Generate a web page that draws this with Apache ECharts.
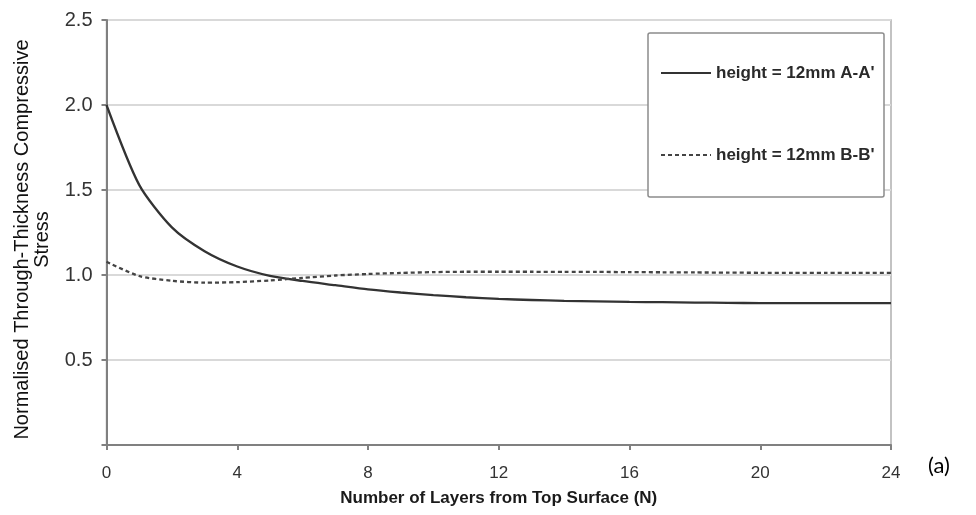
<!DOCTYPE html>
<html>
<head>
<meta charset="utf-8">
<script src="https://cdn.jsdelivr.net/npm/echarts@6/dist/echarts.min.js"></script>
<style>
html,body{margin:0;padding:0;background:#fff;}
#chart{width:976px;height:515px;}
</style>
</head>
<body>
<div id="chart"></div>
<script>
const layers = [0,1,2,3,4,5,6,7,8,9,10,11,12,13,14,15,16,17,18,19,20,21,22,23,24];
const stressAA = [2.00,1.53,1.28,1.14,1.05,0.995,0.965,0.94,0.915,0.897,0.882,0.869,0.859,0.853,0.848,0.845,0.842,0.840,0.838,0.836,0.835,0.835,0.835,0.835,0.835];
const stressBB = [1.078,0.994,0.966,0.955,0.958,0.968,0.983,0.997,1.006,1.012,1.017,1.019,1.019,1.019,1.018,1.018,1.017,1.016,1.015,1.014,1.013,1.013,1.012,1.012,1.012];
const seriesNames = ["height = 12mm A-A'", "height = 12mm B-B'"];
const xTitle = "Number of Layers from Top Surface (N)";
const yTitle = "Normalised Through-Thickness Compressive\nStress";

const FONT = "'Liberation Sans', Arial, sans-serif";
const chart = echarts.init(document.getElementById('chart'));
chart.setOption({
  animation: false,
  backgroundColor: '#ffffff',
  grid: { left: 106.5, right: 85, top: 20, bottom: 70, containLabel: false, outerBoundsMode: 'none',
          show: true, borderColor: '#b0b0b0', borderWidth: 1.5, backgroundColor: 'transparent' },
  xAxis: {
    type: 'value', min: 0, max: 24, interval: 4,
    name: xTitle, nameLocation: 'middle', nameGap: 45,
    nameTextStyle: { fontFamily: FONT, fontSize: 17, fontWeight: 'bold', color: '#1a1a1a' },
    axisLine: { show: true, onZero: false, lineStyle: { color: '#808080', width: 2 } },
    axisTick: { show: true, length: 5, lineStyle: { color: '#808080', width: 2 } },
    axisLabel: { fontFamily: FONT, fontSize: 17, color: '#333333', margin: 20 },
    splitLine: { show: false }
  },
  yAxis: {
    type: 'value', min: 0, max: 2.5, interval: 0.5,
    name: yTitle, nameLocation: 'middle', nameRotate: 90, nameGap: 54,
    nameTextStyle: { fontFamily: FONT, fontSize: 20, fontWeight: 'normal', color: '#111111', lineHeight: 20, padding: [0, 14, 0, 0] },
    axisLine: { show: true, lineStyle: { color: '#808080', width: 2 } },
    axisTick: { show: true, length: 5, lineStyle: { color: '#808080', width: 2 } },
    axisLabel: { fontFamily: FONT, fontSize: 20, color: '#333333', margin: 14,
      formatter: v => v === 0 ? '' : v.toFixed(1) },
    splitLine: { show: true, lineStyle: { color: '#d9d9d9', width: 2 } }
  },
  legend: {
    orient: 'vertical', left: 660, top: 64, padding: 0, itemGap: 64,
    itemWidth: 50, itemHeight: 14, z: 10,
    itemStyle: { opacity: 0 },
    textStyle: { fontFamily: FONT, fontSize: 17, fontWeight: 'bold', color: '#2a2a2a', lineHeight: 18 },
    data: seriesNames
  },
  graphic: [
    { type: 'rect', z: 5, shape: { x: 648, y: 33, width: 236, height: 164, r: 2 },
      style: { fill: '#ffffff', stroke: '#8c8c8c', lineWidth: 1.5 } },
    { type: 'text', left: 928, top: 455, z: 5,
      style: { text: '(a)', font: "22px Lato, 'Open Sans', sans-serif", fill: '#000000' } }
  ],
  series: [
    { name: seriesNames[0], type: 'line', data: layers.map((x,i)=>[x, stressAA[i]]),
      smooth: 0.25, showSymbol: false, symbol: 'none',
      lineStyle: { color: '#333333', width: 2.3, type: 'solid' }, itemStyle: { color: '#333333' } },
    { name: seriesNames[1], type: 'line', data: layers.map((x,i)=>[x, stressBB[i]]),
      smooth: 0.25, showSymbol: false, symbol: 'none',
      lineStyle: { color: '#444444', width: 2.3, type: [4,3] }, itemStyle: { color: '#444444' } }
  ]
});
</script>
</body>
</html>
